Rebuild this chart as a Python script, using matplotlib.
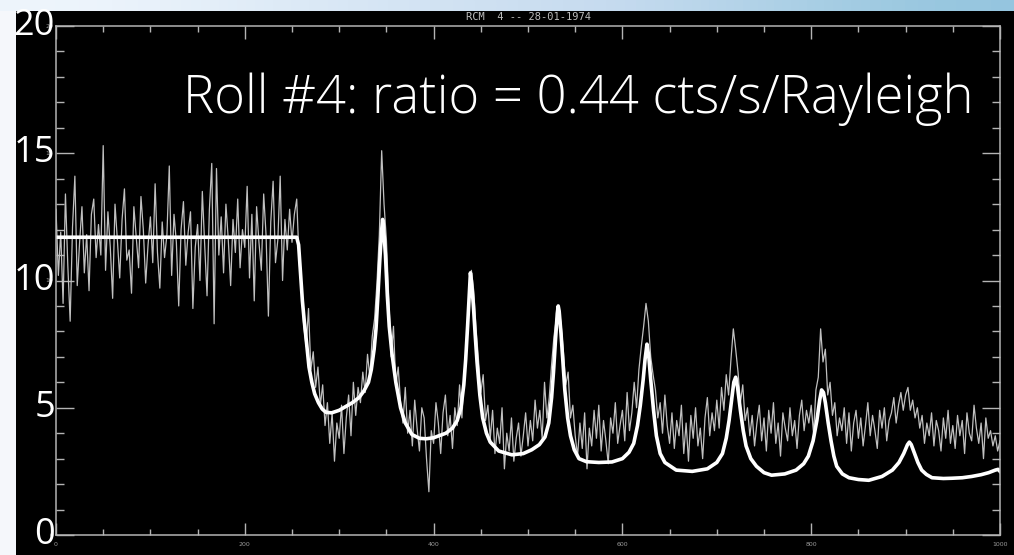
import numpy as np
import matplotlib
matplotlib.use('Agg')
import matplotlib.pyplot as plt
from matplotlib.patches import Rectangle
from matplotlib.ticker import MultipleLocator

# raw counts, one value every 2.5 channels (0 .. 1000)
counts = [
    12.8, 10.2, 11.9, 9.1, 13.4, 10.6, 8.4, 12.1, 14.1, 9.8, 11.5, 12.9, 10.3, 11.8, 9.6, 12.6, 13.2, 10.9, 12.2, 11.0,
    15.3, 10.4, 12.7, 11.3, 9.3, 13.0, 11.6, 10.1, 12.4, 13.6, 10.8, 11.2, 9.5, 12.9, 11.7, 10.5, 13.3, 12.0, 9.9, 11.4,
    12.5, 10.7, 13.8, 11.1, 9.7, 12.3, 10.9, 11.8, 14.5, 10.2, 12.6, 11.5, 9.0, 12.0, 13.1, 10.6, 11.9, 12.7, 8.9, 11.3,
    12.2, 10.0, 13.5, 11.4, 9.4, 12.8, 14.6, 8.3, 14.4, 11.0, 12.5, 10.3, 13.0, 11.6, 9.8, 12.4, 11.1, 13.2, 10.5, 12.0,
    11.3, 13.7, 10.1, 12.6, 9.2, 12.9, 11.5, 10.4, 13.4, 11.8, 8.6, 12.3, 13.9, 10.7, 11.6, 14.1, 10.0, 12.4, 11.2, 12.8,
    11.5, 12.6, 13.2, 10.8, 9.6, 8.2, 7.4, 8.9, 6.5, 7.2, 5.8, 6.6, 5.1, 5.9, 4.3, 5.2, 3.6, 4.8, 2.9, 4.4,
    3.8, 5.1, 3.2, 4.6, 5.5, 3.9, 6.0, 4.7, 5.8, 5.2, 6.4, 5.6, 7.1, 6.2, 7.8, 8.5, 9.9, 11.8, 15.1, 13.0,
    11.6, 9.3, 7.0, 8.2, 5.9, 6.6, 5.2, 4.4, 5.8, 4.0, 4.9, 3.5, 5.3, 4.2, 3.3, 5.0, 4.6, 3.0, 1.7, 4.1,
    3.6, 5.2, 4.4, 3.2, 4.8, 5.5, 3.9, 4.7, 3.4, 5.0, 4.3, 5.9, 4.6, 6.4, 7.6, 9.5, 10.4, 9.6, 8.1, 6.9,
    5.6, 6.3, 4.5, 5.1, 3.8, 4.9, 3.2, 4.2, 3.6, 5.0, 2.6, 4.0, 3.3, 4.6, 2.9, 3.8, 4.4, 3.1, 3.9, 4.8,
    3.5, 4.5, 3.7, 5.3, 4.2, 4.9, 3.8, 6.0, 4.6, 5.4, 6.7, 7.8, 8.5, 9.0, 8.3, 7.2, 5.9, 6.4, 4.6, 5.1,
    3.9, 3.1, 4.4, 3.4, 4.8, 2.6, 4.2, 3.5, 4.9, 3.8, 5.1, 3.3, 4.5, 3.7, 2.8, 4.6, 4.0, 5.2, 3.6, 4.3,
    4.9, 3.7, 5.6, 4.1, 4.8, 6.0, 5.0, 6.5, 7.4, 8.2, 9.1, 8.4, 7.0, 6.3, 5.7, 4.6, 5.2, 4.0, 5.5, 4.3,
    3.6, 4.8, 3.4, 4.5, 3.9, 5.1, 3.2, 4.4, 2.9, 4.7, 3.8, 5.0, 3.5, 4.2, 3.0, 4.6, 5.4, 3.9, 4.8, 4.1,
    5.3, 4.2, 5.8, 4.9, 6.3, 5.5, 6.9, 8.1, 7.3, 6.4, 5.2, 5.9, 4.5, 5.0, 3.9, 4.7, 3.5, 4.4, 5.1, 3.7,
    4.6, 3.3, 4.9, 4.0, 5.2, 3.6, 4.4, 3.1, 4.8, 4.2, 3.7, 5.0, 3.9, 4.5, 3.4, 4.7, 5.3, 4.1, 4.9, 4.4,
    5.1, 4.0, 5.7, 6.2, 8.1, 6.8, 7.3, 5.5, 6.0, 4.7, 5.2, 3.9, 4.6, 4.1, 5.0, 3.6, 4.8, 3.3, 4.4, 4.9,
    3.8, 4.6, 3.5, 4.3, 5.2, 3.9, 4.7, 4.1, 3.4, 4.9, 4.2, 5.0, 3.7, 4.5, 4.8, 5.4, 4.4, 5.1, 5.6, 4.9,
    5.5, 5.8, 4.9, 5.3, 4.6, 5.0, 4.2, 4.7, 3.6, 4.4, 3.9, 4.8, 3.5, 4.5, 4.1, 3.3, 4.6, 3.8, 4.9, 3.6,
    4.3, 3.4, 4.7, 3.9, 4.5, 3.2, 4.8, 4.0, 3.7, 5.1, 4.2, 3.6, 4.4, 3.0, 4.6, 3.8, 4.1, 3.5, 3.9, 3.3, 3.7,
]
channel_step = 2.5

# fitted model curve
fit_x = [0, 255, 257, 259, 261, 263, 265, 268, 271, 274,
         278, 282, 286, 292, 300, 307, 314, 321, 326, 331,
         334, 337, 339, 341, 343, 345, 346, 347, 349, 351,
         353, 356, 360, 365, 370, 377, 385, 392, 400, 413,
         420, 425, 429, 432, 434, 436, 438, 439, 440, 442,
         444, 446, 449, 452, 456, 460, 469, 483, 495, 504,
         512, 518, 522, 525, 527, 529, 531, 532, 533, 535,
         537, 539, 542, 545, 549, 554, 562, 575, 589, 600,
         607, 612, 616, 619, 622, 624, 626, 628, 630, 633,
         636, 640, 645, 657, 674, 690, 700, 706, 710, 713,
         716, 718, 720, 722, 725, 728, 731, 736, 742, 750,
         758, 772, 784, 792, 797, 802, 806, 809, 811, 813,
         815, 818, 821, 824, 827, 833, 840, 850, 861, 875,
         886, 893, 898, 902, 904, 906, 909, 913, 917, 922,
         928, 940, 949, 960, 970, 980, 988, 995, 998, 1000]
fit_y = [11.7, 11.7, 11.4, 10.3, 9.2, 8.4, 7.7, 6.6, 6.0, 5.55,
         5.2, 4.95, 4.82, 4.8, 4.9, 5.05, 5.2, 5.4, 5.65, 6.0,
         6.5, 7.3, 8.1, 9.4, 10.8, 12.0, 12.4, 12.1, 11.0, 9.4,
         8.2, 7.1, 6.0, 5.0, 4.4, 3.95, 3.8, 3.78, 3.82, 4.0,
         4.2, 4.5, 5.0, 5.9, 6.9, 8.2, 9.6, 10.3, 10.0, 9.1,
         7.9, 6.8, 5.5, 4.6, 4.0, 3.65, 3.3, 3.15, 3.2, 3.35,
         3.55, 3.85, 4.4, 5.4, 6.4, 7.6, 8.7, 9.0, 8.8, 7.9,
         6.8, 5.7, 4.6, 3.9, 3.35, 3.0, 2.88, 2.85, 2.87, 3.0,
         3.25, 3.6, 4.3, 5.1, 6.1, 6.9, 7.5, 7.0, 6.1, 4.9,
         3.9, 3.2, 2.85, 2.55, 2.5, 2.6, 2.85, 3.2, 3.8, 4.5,
         5.4, 6.0, 6.2, 5.8, 4.9, 4.1, 3.5, 3.0, 2.7, 2.45,
         2.35, 2.4, 2.55, 2.8, 3.1, 3.7, 4.5, 5.3, 5.7, 5.6,
         5.2, 4.4, 3.7, 3.1, 2.7, 2.4, 2.25, 2.18, 2.15, 2.3,
         2.55, 2.85, 3.2, 3.55, 3.65, 3.55, 3.25, 2.85, 2.55, 2.38,
         2.25, 2.22, 2.23, 2.25, 2.3, 2.37, 2.45, 2.55, 2.58, 2.5]

x_ticks = [0, 200, 400, 600, 800, 1000]
y_ticks = [0, 5, 10, 15, 20]
plot_title = "RCM  4 -- 28-01-1974"
headline = "Roll #4: ratio = 0.44 cts/s/Rayleigh"

W, H = 1014, 555
fig = plt.figure(figsize=(W / 100, H / 100), dpi=100)
fig.patch.set_facecolor('#f5f7fb')

# slide background: light band on top, black panel below
band = fig.add_axes([0, 1 - 11 / H, 1, 11 / H])
band.imshow([[0.97, 0.9, 0.85, 0.8, 0.72]], cmap='Blues_r', vmin=0.3, vmax=1.0,
            aspect='auto', interpolation='bicubic', extent=[0, 1, 0, 1])
band.axis('off')
panel = Rectangle((16 / W, 0), 1 - 16 / W, 1 - 11 / H,
                  transform=fig.transFigure, facecolor='black',
                  edgecolor='none', zorder=-10)
fig.add_artist(panel)

ax = fig.add_axes([56 / W, 20 / H, (1000 - 56) / W, (535 - 26) / H])
ax.set_facecolor('black')

x = np.arange(len(counts)) * channel_step
ax.plot(x, counts, color='#c0c0c0', lw=0.9)
ax.plot(fit_x, fit_y, color='white', lw=2.6, solid_joinstyle='round')

ax.set_xlim(0, 1000)
ax.set_ylim(0, 20)

grey = '#b4b4b4'
for s in ax.spines.values():
    s.set_color(grey)
    s.set_linewidth(1.1)

ax.set_xticks(x_ticks)
ax.set_yticks(y_ticks)
ax.xaxis.set_minor_locator(MultipleLocator(50))
ax.yaxis.set_minor_locator(MultipleLocator(1))
ax.tick_params(which='both', direction='in', top=True, right=True,
               color=grey, width=1.0, labelcolor='#9a9a9a', labelsize=4.5)
ax.tick_params(axis='x', which='major', length=9, pad=5)
ax.tick_params(axis='x', which='minor', length=4.5)
ax.tick_params(axis='y', which='major', length=13, pad=2)
ax.tick_params(axis='y', which='minor', length=6)

ax.set_title(plot_title, color='#bdbdbd', fontsize=7.5,
             family='DejaVu Sans Mono', pad=4)

# big slide labels on the y axis
for v in y_ticks:
    ax.text(-0.001, v, str(v), transform=ax.get_yaxis_transform(),
            ha='right', va='center', color='white', fontsize=26,
            family='Open Sans', zorder=5, clip_on=False)

fig.text(183 / W, 1 - 113 / H, headline, color='white', fontsize=37.8,
         family='Open Sans', fontweight='light', ha='left', va='baseline')

fig.savefig('out.png', dpi=100, facecolor=fig.get_facecolor())
